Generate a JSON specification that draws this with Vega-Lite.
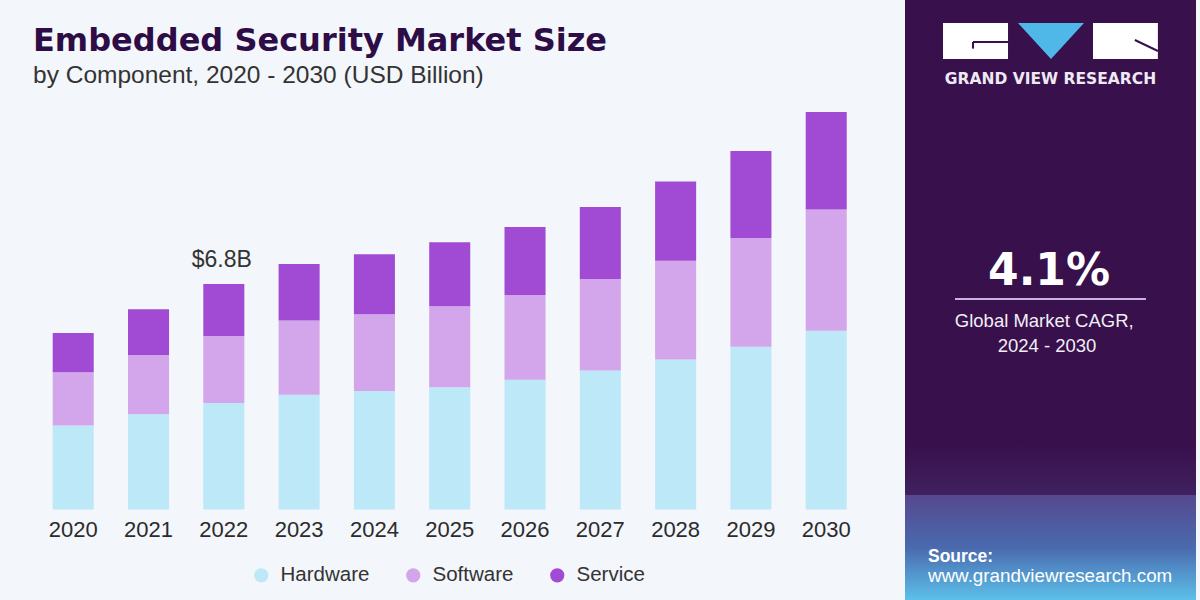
{
  "$schema": "https://vega.github.io/schema/vega-lite/v6.json",
  "width": 1200,
  "height": 600,
  "autosize": {"type": "none"},
  "padding": 0,
  "background": "#f3f6fa",
  "config": {"view": {"stroke": null}, "font": "Liberation Sans"},
  "title": {
    "text": "Embedded Security Market Size",
    "subtitle": "by Component, 2020 - 2030 (USD Billion)",
    "anchor": "start",
    "frame": "group",
    "orient": "top",
    "offset": -88,
    "dx": 33,
    "font": "DejaVu Sans",
    "fontWeight": "bold",
    "fontSize": 32,
    "color": "#2e0c46",
    "subtitleFont": "Liberation Sans",
    "subtitleFontSize": 24.5,
    "subtitleColor": "#333333",
    "subtitlePadding": 6
  },
  "layer": [
    {
      "layer": [
        {
          "data": {
            "values": [
              {"year": "2020", "component": "Hardware", "value": 2.53},
              {"year": "2020", "component": "Software", "value": 1.61},
              {"year": "2020", "component": "Service", "value": 1.18},
              {"year": "2021", "component": "Hardware", "value": 2.87},
              {"year": "2021", "component": "Software", "value": 1.79},
              {"year": "2021", "component": "Service", "value": 1.38},
              {"year": "2022", "component": "Hardware", "value": 3.21},
              {"year": "2022", "component": "Software", "value": 2.02},
              {"year": "2022", "component": "Service", "value": 1.57},
              {"year": "2023", "component": "Hardware", "value": 3.46},
              {"year": "2023", "component": "Software", "value": 2.24},
              {"year": "2023", "component": "Service", "value": 1.70},
              {"year": "2024", "component": "Hardware", "value": 3.57},
              {"year": "2024", "component": "Software", "value": 2.32},
              {"year": "2024", "component": "Service", "value": 1.81},
              {"year": "2025", "component": "Hardware", "value": 3.69},
              {"year": "2025", "component": "Software", "value": 2.44},
              {"year": "2025", "component": "Service", "value": 1.93},
              {"year": "2026", "component": "Hardware", "value": 3.91},
              {"year": "2026", "component": "Software", "value": 2.56},
              {"year": "2026", "component": "Service", "value": 2.05},
              {"year": "2027", "component": "Hardware", "value": 4.19},
              {"year": "2027", "component": "Software", "value": 2.76},
              {"year": "2027", "component": "Service", "value": 2.17},
              {"year": "2028", "component": "Hardware", "value": 4.52},
              {"year": "2028", "component": "Software", "value": 2.98},
              {"year": "2028", "component": "Service", "value": 2.39},
              {"year": "2029", "component": "Hardware", "value": 4.91},
              {"year": "2029", "component": "Software", "value": 3.28},
              {"year": "2029", "component": "Service", "value": 2.62},
              {"year": "2030", "component": "Hardware", "value": 5.39},
              {"year": "2030", "component": "Software", "value": 3.66},
              {"year": "2030", "component": "Service", "value": 2.94}
            ]
          },
          "transform": [
            {"calculate": "indexof(['Hardware', 'Software', 'Service'], datum.component)", "as": "stackOrder"}
          ],
          "mark": {"type": "bar"},
          "encoding": {
            "x": {
              "field": "year",
              "type": "ordinal",
              "scale": {"range": [35.57, 863.87], "paddingInner": 0.455, "paddingOuter": 0.2275, "round": false},
              "axis": null
            },
            "y": {
              "field": "value",
              "type": "quantitative",
              "stack": "zero",
              "scale": {"domain": [-2.729, 15.365], "nice": false, "zero": false},
              "axis": null
            },
            "order": {"field": "stackOrder", "type": "quantitative", "sort": "ascending"},
            "color": {
              "field": "component",
              "type": "nominal",
              "sort": ["Hardware", "Software", "Service"],
              "scale": {
                "domain": ["Hardware", "Software", "Service"],
                "range": ["#bde8f8", "#d3a5ea", "#a14bd5"]
              },
              "legend": {
                "orient": "none",
                "legendX": 251,
                "legendY": 565,
                "direction": "horizontal",
                "title": null,
                "symbolType": "circle",
                "symbolSize": 200,
                "symbolStrokeWidth": 0,
                "labelFont": "Liberation Sans",
                "labelFontSize": 20.5,
                "labelColor": "#333333",
                "labelOffset": 9,
                "columnPadding": 33
              }
            }
          }
        },
        {
          "data": {
            "values": [
              {"year": "2020"}, {"year": "2021"}, {"year": "2022"}, {"year": "2023"},
              {"year": "2024"}, {"year": "2025"}, {"year": "2026"}, {"year": "2027"},
              {"year": "2028"}, {"year": "2029"}, {"year": "2030"}
            ]
          },
          "mark": {"type": "text", "fontSize": 22, "color": "#2b2b2b", "baseline": "alphabetic", "font": "Liberation Sans"},
          "encoding": {
            "x": {"field": "year", "type": "ordinal"},
            "y": {"datum": -0.83},
            "text": {"field": "year"}
          }
        },
        {
          "data": {"values": [{"year": "2022", "total": 6.8, "label": "$6.8B"}]},
          "mark": {"type": "text", "fontSize": 23, "color": "#333333", "baseline": "alphabetic", "dy": -17, "dx": -2, "font": "Liberation Sans"},
          "encoding": {
            "x": {"field": "year", "type": "ordinal"},
            "y": {"field": "total", "type": "quantitative"},
            "text": {"field": "label"}
          }
        }
      ]
    },
    {
      "layer": [
        {
          "data": {"values": [{}]},
          "mark": {"type": "rect", "fill": "#38104c"},
          "encoding": {
            "x": {"datum": 0, "type": "quantitative", "scale": {"domain": [-3.10997, 1.013746], "nice": false, "zero": false}, "axis": null},
            "x2": {"datum": 1},
            "y": {"datum": 0, "type": "quantitative", "scale": {"domain": [0, 1], "reverse": true, "nice": false, "zero": false}, "axis": null},
            "y2": {"datum": 1}
          }
        },
        {
          "data": {"values": [{}]},
          "mark": {
            "type": "rect",
            "fill": {
              "gradient": "linear", "x1": 0, "y1": 0, "x2": 0, "y2": 1,
              "stops": [
                {"offset": 0, "color": "#38104c"},
                {"offset": 1, "color": "#40215f"}
              ]
            }
          },
          "encoding": {
            "x": {"datum": 0}, "x2": {"datum": 1},
            "y": {"datum": 0.74}, "y2": {"datum": 0.825}
          }
        },
        {
          "data": {"values": [{}]},
          "mark": {
            "type": "rect",
            "fill": {
              "gradient": "linear", "x1": 0, "y1": 0, "x2": 0, "y2": 1,
              "stops": [
                {"offset": 0, "color": "#56488f"},
                {"offset": 0.5, "color": "#4a6aae"},
                {"offset": 1, "color": "#5cc0ea"}
              ]
            }
          },
          "encoding": {
            "x": {"datum": 0}, "x2": {"datum": 1},
            "y": {"datum": 0.825}, "y2": {"datum": 1}
          }
        },
        {
          "data": {"values": [{}]},
          "mark": {"type": "rect", "fill": "#ffffff"},
          "encoding": {
            "x": {"datum": 0.1306}, "x2": {"datum": 0.354},
            "y": {"datum": 0.0383}, "y2": {"datum": 0.0983}
          }
        },
        {
          "data": {"values": [{}]},
          "mark": {"type": "rect", "fill": "#ffffff"},
          "encoding": {
            "x": {"datum": 0.646}, "x2": {"datum": 0.869},
            "y": {"datum": 0.0383}, "y2": {"datum": 0.0983}
          }
        },
        {
          "data": {"values": [{}]},
          "mark": {"type": "point", "filled": true, "fill": "#4fb8e8", "opacity": 1, "shape": "M-1,-0.545L1,-0.545L0,0.545Z", "size": 4356, "strokeWidth": 0},
          "encoding": {
            "x": {"datum": 0.5017},
            "y": {"datum": 0.0683}
          }
        },
        {
          "data": {"values": [{}]},
          "mark": {"type": "rule", "color": "#38104c", "strokeWidth": 2},
          "encoding": {
            "x": {"datum": 0.2337}, "x2": {"datum": 0.354},
            "y": {"datum": 0.07}
          }
        },
        {
          "data": {"values": [{}]},
          "mark": {"type": "rule", "color": "#38104c", "strokeWidth": 2},
          "encoding": {
            "x": {"datum": 0.2337},
            "y": {"datum": 0.07}, "y2": {"datum": 0.081}
          }
        },
        {
          "data": {"values": [{}]},
          "mark": {"type": "rule", "color": "#38104c", "strokeWidth": 2},
          "encoding": {
            "x": {"datum": 0.79}, "x2": {"datum": 0.869},
            "y": {"datum": 0.0667}, "y2": {"datum": 0.085}
          }
        },
        {
          "data": {"values": [{}]},
          "mark": {"type": "text", "text": "GRAND VIEW RESEARCH", "font": "DejaVu Sans", "fontWeight": "bold", "fontSize": 15.5, "color": "#eeeaf4", "align": "center", "baseline": "alphabetic"},
          "encoding": {"x": {"datum": 0.5}, "y": {"datum": 0.14}}
        },
        {
          "data": {"values": [{}]},
          "mark": {"type": "text", "text": "4.1%", "font": "DejaVu Sans", "fontWeight": "bold", "fontSize": 44, "color": "#ffffff", "align": "center", "baseline": "alphabetic"},
          "encoding": {"x": {"datum": 0.495}, "y": {"datum": 0.475}}
        },
        {
          "data": {"values": [{}]},
          "mark": {"type": "rule", "color": "#c9b3df", "strokeWidth": 2},
          "encoding": {
            "x": {"datum": 0.1718}, "x2": {"datum": 0.828},
            "y": {"datum": 0.4983}
          }
        },
        {
          "data": {"values": [{}]},
          "mark": {"type": "text", "text": "Global Market CAGR,", "font": "Liberation Sans", "fontSize": 18.5, "color": "#f2eef6", "align": "center", "baseline": "alphabetic"},
          "encoding": {"x": {"datum": 0.4785}, "y": {"datum": 0.5445}}
        },
        {
          "data": {"values": [{}]},
          "mark": {"type": "text", "text": "2024 - 2030", "font": "Liberation Sans", "fontSize": 18.5, "color": "#f2eef6", "align": "center", "baseline": "alphabetic"},
          "encoding": {"x": {"datum": 0.4880}, "y": {"datum": 0.586}}
        },
        {
          "data": {"values": [{}]},
          "mark": {"type": "text", "text": "Source:", "font": "Liberation Sans", "fontWeight": "bold", "fontSize": 17.5, "color": "#ffffff", "align": "left", "baseline": "alphabetic"},
          "encoding": {"x": {"datum": 0.079}, "y": {"datum": 0.936}}
        },
        {
          "data": {"values": [{}]},
          "mark": {"type": "text", "text": "www.grandviewresearch.com", "font": "Liberation Sans", "fontSize": 18.8, "color": "#ffffff", "align": "left", "baseline": "alphabetic"},
          "encoding": {"x": {"datum": 0.079}, "y": {"datum": 0.9695}}
        }
      ]
    }
  ],
  "resolve": {"scale": {"x": "independent", "y": "independent"}}
}
